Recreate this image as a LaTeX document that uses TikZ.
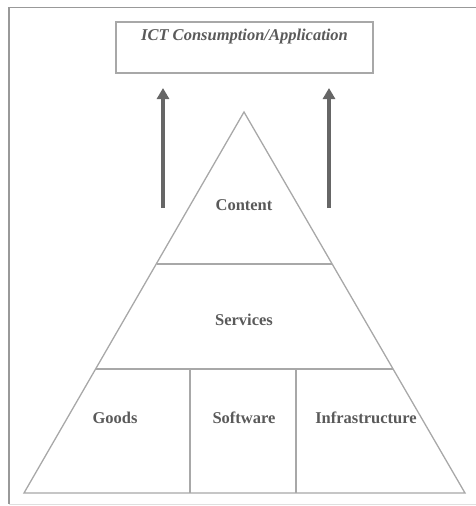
\documentclass[tikz,border=0pt]{standalone}
\usepackage{fontspec}
\setmainfont{Liberation Serif}
\usetikzlibrary{arrows.meta}
\definecolor{linegray}{HTML}{A8A8A8}
\definecolor{textgray}{HTML}{5A5A5A}
\definecolor{arrowgray}{HTML}{666666}
\tikzset{
  part/.style={draw=linegray, line width=1.3pt},
  lbl/.style={font=\fontsize{16.5}{18}\selectfont\bfseries, text=textgray, inner sep=0pt},
  up/.style={draw=arrowgray, line width=4pt, -{Triangle[length=11pt,width=12pt]}},
}
\begin{document}
\begin{tikzpicture}[x=1pt,y=-1pt]
\useasboundingbox (0,0) rectangle (476,506);
% outer frame
\draw[draw=gray!80, line width=1.6pt] (476.5,7.5) -- (9,7.5) -- (9,504);
\draw[draw=gray!25, line width=1pt] (9,504) -- (476,504);
% top box
\node[part, draw, minimum width=257pt, minimum height=51pt, inner sep=0pt] (top) at (244.5,47.5) {};
\node[lbl, font=\fontsize{16.5}{18}\selectfont\bfseries\itshape] (toptext) at (244.5,37) {ICT Consumption/Application};
% pyramid
\coordinate (apex) at (244,112);
\coordinate (bl) at (24,493);
\coordinate (br) at (465,493);
\coordinate (c1) at (157,264);
\coordinate (c2) at (332,264);
\coordinate (s1) at (96,369);
\coordinate (s2) at (393,369);
\coordinate (d1t) at (190,369);
\coordinate (d1b) at (190,493);
\coordinate (d2t) at (296,369);
\coordinate (d2b) at (296,493);
\draw[part, line join=miter] (apex) -- (br) -- (bl) -- cycle;
\draw[part] (c1) -- (c2);
\draw[part] (s1) -- (s2);
\draw[part] (d1t) -- (d1b);
\draw[part] (d2t) -- (d2b);
% labels
\node[lbl] (content) at (244,205) {Content};
\node[lbl] (services) at (244,320) {Services};
\node[lbl] (goods) at (115,418) {Goods};
\node[lbl] (software) at (244,418) {Software};
\node[lbl] (infra) at (366,418) {Infrastructure};
% arrows
\coordinate (a1s) at (163,208);
\coordinate (a1e) at (163,88);
\coordinate (a2s) at (329,208);
\coordinate (a2e) at (329,88);
\draw[up] (a1s) -- (a1e);
\draw[up] (a2s) -- (a2e);
\end{tikzpicture}
\end{document}
